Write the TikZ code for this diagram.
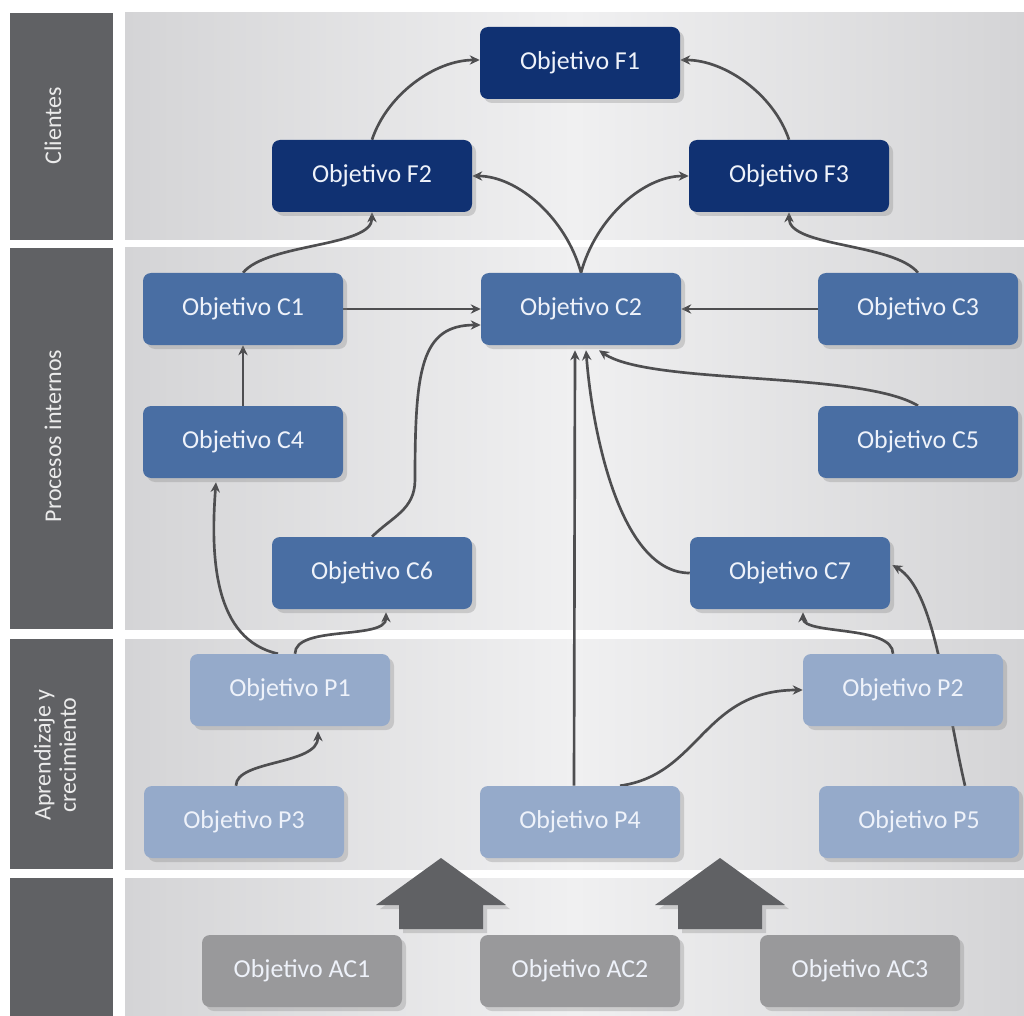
\documentclass[tikz,border=0pt]{standalone}
\usepackage{fontspec}
\setmainfont{Carlito}
\usetikzlibrary{arrows.meta,calc,shadows}

\definecolor{navyobj}{RGB}{16,49,114}
\definecolor{blueobj}{RGB}{73,110,163}
\definecolor{paleobj}{RGB}{149,170,202}
\definecolor{grayobj}{RGB}{153,153,155}
\definecolor{bandgray}{RGB}{96,97,100}
\definecolor{panelside}{RGB}{212,212,214}
\definecolor{panelmid}{RGB}{240,240,241}
\definecolor{linkgray}{RGB}{78,78,80}
\definecolor{objtext}{RGB}{238,242,250}

\pgfdeclarelayer{panels}
\pgfdeclarelayer{links}
\pgfsetlayers{panels,links,main}

\tikzset{every picture/.style={line width=0.75pt}}
\tikzset{
  objbox/.style={rounded corners=6pt, minimum width=150pt, minimum height=54pt, inner sep=0pt,
    text=objtext, font=\fontsize{19.4}{23}\selectfont,
    drop shadow={shadow xshift=3pt, shadow yshift=-3pt, opacity=0.3}},
  fobj/.style={objbox, fill=navyobj},
  cobj/.style={objbox, fill=blueobj},
  pobj/.style={objbox, fill=paleobj},
  acobj/.style={objbox, fill=grayobj},
  link/.style={draw=linkgray, line width=2pt, -{Stealth[length=7.5pt,width=7pt]}},
  bandlabel/.style={rotate=90, text=white!92!black, align=center, font=\fontsize{18}{19}\selectfont},
}

\begin{document}
\begin{tikzpicture}[x=0.75pt,y=0.75pt,yscale=-1,xscale=1]
\useasboundingbox (0,0) rectangle (1024,1016);

% bands
\begin{pgfonlayer}{panels}
\foreach \ya/\yb in {13/240, 248/629, 639/869, 878/1016} {
  \fill[bandgray] (10,\ya) rectangle (113,\yb);
  \shade[left color=panelside, right color=panelside, middle color=panelmid] (125,\ya) rectangle (1024,\yb);
}
\end{pgfonlayer}

\node[bandlabel] (Lcli) at (53,126) {Clientes};
\node[bandlabel] (Lpro) at (53,436) {Procesos internos};
\node[bandlabel] (Lapr) at (55,755) {Aprendizaje y\\crecimiento};

% objectives
\node[fobj] (F1) at (580,63) {Objetivo F1};
\node[fobj] (F2) at (372,176) {Objetivo F2};
\node[fobj] (F3) at (789,176) {Objetivo F3};

\node[cobj] (C1) at (243,309) {Objetivo C1};
\node[cobj] (C2) at (581,309) {Objetivo C2};
\node[cobj] (C3) at (918,309) {Objetivo C3};
\node[cobj] (C4) at (243,442) {Objetivo C4};
\node[cobj] (C5) at (918,442) {Objetivo C5};
\node[cobj] (C6) at (372,573) {Objetivo C6};
\node[cobj] (C7) at (790,573) {Objetivo C7};

\node[pobj] (P1) at (290,690) {Objetivo P1};
\node[pobj] (P2) at (903,690) {Objetivo P2};
\node[pobj] (P3) at (244,822) {Objetivo P3};
\node[pobj] (P4) at (580,822) {Objetivo P4};
\node[pobj] (P5) at (919,822) {Objetivo P5};

\node[acobj] (AC1) at (302,971) {Objetivo AC1};
\node[acobj] (AC2) at (580,971) {Objetivo AC2};
\node[acobj] (AC3) at (860,971) {Objetivo AC3};

% big arrows
\foreach \a/\b in {AC1/AC2, AC2/AC3}
  \fill[bandgray, drop shadow={shadow xshift=3pt, shadow yshift=-3pt, opacity=0.3}]
    ($(\a)!.5!(\b)$) ++(0,-113) -- ++(65,47) -- ++(-23,0) -- ++(0,24) -- ++(-84,0) -- ++(0,-24) -- ++(-23,0) -- cycle;

% links
\begin{pgfonlayer}{links}
\draw[link] (F2.north) .. controls +(15,-45) and +(-45,0) .. ($(F1.west)+(0,-3)$);
\draw[link] (F3.north) .. controls +(-15,-45) and +(45,0) .. ($(F1.east)+(0,-3)$);
\draw[link] (C2.north) .. controls +(-15,-55) and +(45,0) .. (F2.east);
\draw[link] (C2.north) .. controls +(15,-55) and +(-45,0) .. (F3.west);
\draw[link] (C1.north) .. controls +(25,-30) and +(0,35) .. (F2.south);
\draw[link] (C3.north) .. controls +(-25,-30) and +(0,35) .. (F3.south);
\draw[link] (C1.east) -- (C2.west);
\draw[link] (C3.west) -- (C2.east);
\draw[link] (C4.north) -- (C1.south);
\draw[link] (C6.north) .. controls +(20,-20) and +(0,30) .. ++(43,-57)
  .. controls +(0,-110) and +(-60,0) .. ($(C2.west)+(0,16)$);
\draw[link] (C5.north) .. controls +(-58,-35) and +(51,35) .. ($(C2.south)+(18,5)$);
\draw[link] (C7.west) .. controls +(-70,0) and +(6,80) .. ($(C2.south)+(5,5)$);
\draw[link] ($(P4.north)+(-6,0)$) -- ($(C2.south)+(-6,5)$);
\draw[link] ($(P1.north)+(-12,0)$) .. controls +(-63,-14) and +(-6,78) .. ($(C4.south)+(-27,4)$);
\draw[link] ($(P1.north)+(5,0)$) .. controls +(0,-29) and +(0,28) .. ($(C6.south)+(14,3)$);
\draw[link] ($(P3.north)+(-8,0)$) .. controls +(0,-26) and +(0,34) .. ($(P1.south)+(28,5)$);
\draw[link] ($(P4.north)+(40,0)$) .. controls +(80,-11) and +(-100,0) .. (P2.west);
\draw[link] ($(P2.north)+(-10,0)$) .. controls +(0,-29) and +(0,23) .. ($(C7.south)+(13,3)$);
\draw[link] ($(P5.north)+(46,0)$) .. controls +(-20,-86) and +(43,25) .. ($(C7.east)+(2,-8)$);
\end{pgfonlayer}

\end{tikzpicture}
\end{document}
